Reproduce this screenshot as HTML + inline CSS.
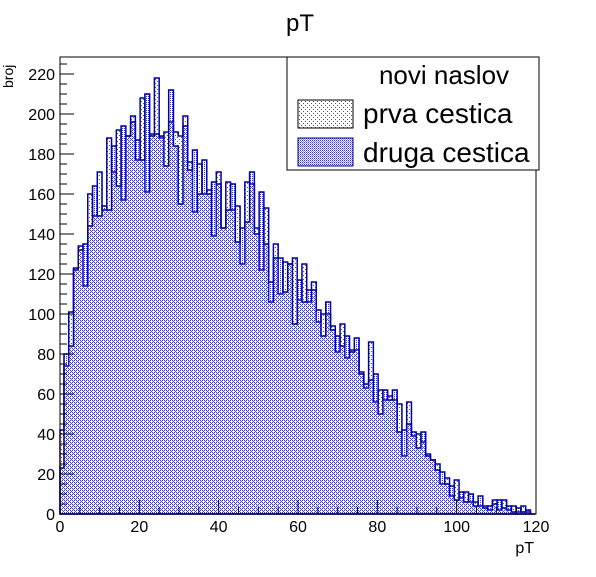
<!DOCTYPE html>
<html><head><meta charset="utf-8"><style>
body{margin:0;background:#fff;}
svg text{font-family:"Liberation Sans",sans-serif;}
</style></head><body>
<svg width="596" height="572" viewBox="0 0 596 572" id="chart">
<defs>
<pattern id="pA" width="4" height="4" patternUnits="userSpaceOnUse"><rect width="4" height="4" fill="#fff"/><rect x="1" y="1" width="1" height="1" fill="#e02020"/><rect x="3" y="3" width="1" height="1" fill="#e02020"/></pattern>
<pattern id="pB" width="2" height="2" patternUnits="userSpaceOnUse"><rect x="0" y="0" width="1" height="1" fill="#3030e0"/></pattern>
<pattern id="pL1" width="4" height="4" patternUnits="userSpaceOnUse"><rect width="4" height="4" fill="#fff"/><rect x="1" y="1" width="1" height="1" fill="#555"/><rect x="3" y="3" width="1" height="1" fill="#555"/></pattern>
<pattern id="pL2" width="2" height="2" patternUnits="userSpaceOnUse"><rect width="2" height="2" fill="#fff"/><rect x="0" y="0" width="1" height="1" fill="#3030e0"/><rect x="1" y="1" width="1" height="1" fill="#8080ff"/></pattern>
</defs>
<text x="300" y="31" font-size="24" text-anchor="middle">pT</text>
<text x="0" y="0" font-size="14" transform="translate(13,88) rotate(-90)">broj</text>
<text x="534" y="553" font-size="16" text-anchor="end">pT</text>
<g id="bars"></g>
<rect x="60" y="57" width="476" height="457" fill="none" stroke="#000" stroke-width="1"/>
<g id="axes"></g>
<g>
<rect x="287" y="57" width="252" height="113" fill="#fff" stroke="#000" stroke-width="1"/>
<text x="444" y="84" font-size="26" text-anchor="middle">novi naslov</text>
<rect x="298" y="100" width="55" height="28" fill="url(#pL1)" stroke="#000"/>
<text x="363" y="123" font-size="28">prva cestica</text>
<rect x="298" y="138" width="55" height="28" fill="url(#pL2)" stroke="#00008b"/>
<text x="363" y="162" font-size="28">druga cestica</text>
</g>
</svg>
<script>
const prva=[42,74,101,122,134,114,160,149,171,152,188,171,192,157,189,199,177,208,161,190,218,188,191,196,191,189,199,176,151,175,160,162,139,171,143,166,152,154,125,166,165,143,122,153,106,135,110,126,125,128,107,125,106,116,96,100,100,94,81,95,78,82,82,71,63,86,56,62,57,59,57,55,29,56,39,40,36,30,27,25,15,18,9,17,8,11,6,6,4,4,2,7,2,7,2,4,1,4,1,0];
const druga=[23,80,84,123,132,135,144,164,149,154,152,184,164,194,189,196,187,177,210,189,190,189,174,212,184,155,194,172,182,160,177,160,166,165,143,152,165,136,143,146,171,140,161,135,116,128,128,111,125,95,117,106,112,112,102,89,106,92,89,84,89,81,88,70,65,67,70,50,62,57,62,41,42,45,41,33,41,29,27,22,21,15,14,7,11,6,10,4,9,3,4,5,7,3,4,1,3,1,2,0];
const binStart=-0.2, binW=1.2;
const yTicks=[0,20,40,60,80,100,120,140,160,180,200,220];
const xTicks=[0,20,40,60,80,100,120];
const X0=60,X1=536,Y0=514;
function xs(v){return X0+(v-0)*(X1-X0)/120;}
function ys(v){return Y0-v*2;}
const NS='http://www.w3.org/2000/svg';
function stepPath(arr){
  let d='M'+Math.max(X0,xs(binStart))+','+ys(0);
  arr.forEach((v,i)=>{
    const a=Math.max(X0,xs(binStart+i*binW)), b=Math.min(X1,xs(binStart+(i+1)*binW));
    d+=' L'+a+','+ys(v)+' L'+b+','+ys(v);
  });
  d+=' L'+Math.min(X1,xs(binStart+arr.length*binW))+','+ys(0)+' Z';
  return d;
}
const g=document.getElementById('bars');
const pa=document.createElementNS(NS,'path');
pa.setAttribute('d',stepPath(prva));pa.setAttribute('fill','url(#pA)');pa.setAttribute('stroke','#0000a0');pa.setAttribute('stroke-width','1.5');


g.appendChild(pa);
const pb=document.createElementNS(NS,'path');
pb.setAttribute('d',stepPath(druga));pb.setAttribute('fill','url(#pB)');pb.setAttribute('stroke','#0000a0');pb.setAttribute('stroke-width','1.5');


g.appendChild(pb);
const ax=document.getElementById('axes');
function line(x1,y1,x2,y2){const l=document.createElementNS(NS,'line');l.setAttribute('x1',x1);l.setAttribute('y1',y1);l.setAttribute('x2',x2);l.setAttribute('y2',y2);l.setAttribute('stroke','#000');


ax.appendChild(l);}
for(let v=0;v<=225;v+=5){line(X0,ys(v),X0+(v%20===0?14:7),ys(v));}
yTicks.forEach(v=>{const t=document.createElementNS(NS,'text');t.setAttribute('x',55);t.setAttribute('y',ys(v)+6);t.setAttribute('font-size','16');t.setAttribute('text-anchor','end');t.textContent=v;


ax.appendChild(t);});
for(let v=0;v<=120;v+=5){line(xs(v),Y0,xs(v),Y0-(v%20===0?14:7));}
xTicks.forEach(v=>{const t=document.createElementNS(NS,'text');t.setAttribute('x',xs(v));t.setAttribute('y',532);t.setAttribute('font-size','16');t.setAttribute('text-anchor','middle');t.textContent=v;


ax.appendChild(t);});
</script>
</body></html>
